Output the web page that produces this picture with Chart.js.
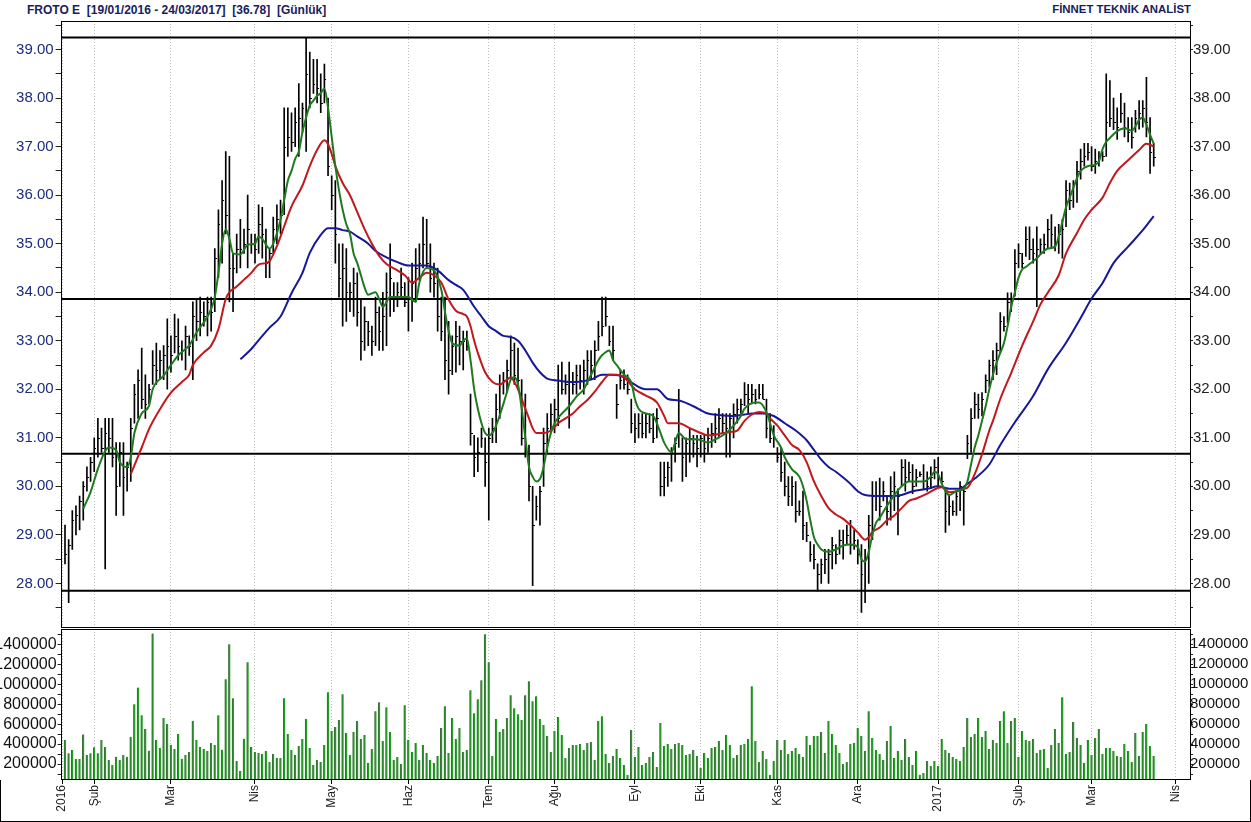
<!DOCTYPE html>
<html>
<head>
<meta charset="utf-8">
<script src="https://cdn.jsdelivr.net/npm/chart.js@4.4.0/dist/chart.umd.min.js"></script>
<style>
  html, body { margin: 0; padding: 0; background: #fff; }
  #wrap { position: relative; width: 1251px; height: 822px; overflow: hidden; background: #fff; }
  .hdr { position: absolute; top: 3px; font: bold 12px "Liberation Sans", Arial, sans-serif; color: #16215c; white-space: pre; }
  canvas { position: absolute; left: 0; }
  .ln { position: absolute; background: #000; }
</style>
</head>
<body>
<div id="wrap">
  <div class="hdr" style="left:27px">FROTO E  [19/01/2016 - 24/03/2017]  [36.78]  [Günlük]</div>
  <div class="hdr" style="right:60px;font-size:11.4px">FİNNET TEKNİK ANALİST</div>
  <canvas id="priceChart" width="1251" height="629" style="top:0"></canvas>
  <canvas id="volChart" width="1251" height="194" style="top:628px"></canvas>
  <div class="ln" style="left:0;top:780px;width:1px;height:42px"></div>
  <div class="ln" style="left:1250px;top:780px;width:1px;height:42px"></div>
  <div class="ln" style="left:0;top:821px;width:1251px;height:1px"></div>
</div>
<script>
// daily bars, day 0 = first session shown in January 2016
const highP = [
  29.2,28.9,29.5,29.6,29.8,30.1,30.4,30.6,31.0,31.4,
  31.2,31.4,31.4,31.4,30.9,30.9,30.9,30.5,31.4,32.1,
  32.4,32.85,32.3,32.1,32.8,32.95,32.8,32.9,33.45,33.1,
  33.55,33.45,33.0,33.3,33.1,33.8,33.85,33.9,33.8,33.9,
  33.9,34.9,35.7,36.3,36.9,36.8,34.8,35.2,35.5,35.3,
  36.0,35.2,35.2,35.8,35.75,35.3,34.9,35.55,35.8,35.9,
  37.8,37.8,37.7,37.8,38.3,37.9,39.25,38.95,38.8,38.8,
  38.5,38.7,38.0,36.4,36.3,35.0,35.0,34.9,34.2,34.5,
  34.4,33.85,33.7,33.4,33.3,33.9,33.7,34.0,34.4,35.0,
  34.2,34.2,34.5,34.2,34.3,34.6,34.9,35.0,35.55,35.5,
  35.0,34.6,34.5,33.9,33.9,33.4,33.1,33.4,33.3,33.2,
  33.2,31.9,31.05,31.0,31.2,31.0,31.2,31.4,31.9,32.3,
  32.35,32.6,33.1,32.95,32.85,32.2,31.9,30.85,30.0,29.8,
  30.0,31.2,31.5,31.7,31.8,32.5,32.56,32.3,32.56,32.35,
  32.5,32.5,32.6,32.8,32.8,33.0,33.4,33.9,33.9,33.3,
  33.3,32.1,32.4,32.4,32.3,31.8,31.5,31.5,31.5,31.5,
  31.5,31.5,31.6,30.5,30.5,30.5,30.8,31.0,32.0,31.0,
  31.0,31.2,31.05,31.05,31.05,31.05,31.2,31.3,31.5,31.6,
  31.5,31.5,31.5,31.7,31.8,31.8,32.14,32.1,32.1,32.0,
  32.1,32.1,31.8,31.5,31.25,30.8,30.8,30.5,30.2,30.2,
  30.1,29.7,29.9,29.26,28.86,28.8,28.4,28.5,28.7,28.7,
  28.95,28.8,29.1,29.1,29.2,29.3,29.1,28.9,28.8,28.7,
  29.4,30.1,30.1,30.17,30.1,29.8,30.2,30.3,29.95,30.55,
  30.55,30.5,30.45,30.35,30.3,30.45,30.3,30.4,30.55,30.6,
  30.3,29.9,29.8,29.7,29.88,30.1,30.0,31.05,31.6,31.93,
  31.9,31.93,32.3,32.6,32.8,32.95,33.58,33.5,33.99,33.99,
  34.88,35.0,34.8,35.35,35.35,35.1,35.35,35.1,35.2,35.5,
  35.6,35.35,35.4,35.5,36.3,36.25,36.3,36.7,36.95,37.07,
  37.07,37.0,36.95,36.9,36.9,38.5,38.36,38.0,37.8,38.1,
  37.9,37.6,37.6,37.75,37.95,37.95,38.43,37.6,37.07
];
const lowP = [
  28.4,27.6,28.7,29.0,29.1,29.3,29.9,30.1,30.3,30.6,
  30.7,28.3,30.7,30.4,29.4,30.0,29.4,29.9,30.1,31.3,
  31.4,31.6,31.4,31.7,32.1,32.1,32.2,32.2,32.0,32.35,
  32.75,32.6,32.6,32.4,32.7,32.2,33.0,33.1,33.3,33.1,
  33.2,33.6,34.3,34.6,35.2,33.8,33.6,34.4,34.5,34.8,
  34.5,34.8,34.6,34.8,34.7,34.3,34.3,34.8,35.0,35.2,
  35.6,36.8,36.9,37.0,36.8,37.3,36.9,37.8,38.1,37.9,
  37.7,37.9,36.4,35.7,34.6,33.9,33.3,33.4,33.6,33.5,
  33.3,32.6,32.8,32.9,32.7,32.9,32.8,32.8,32.9,33.5,
  33.6,33.7,33.9,33.7,33.2,33.4,33.8,34.25,34.5,34.5,
  34.0,33.9,33.2,33.0,32.2,31.9,32.3,32.35,32.5,32.4,
  32.8,30.85,30.2,30.3,30.8,30.0,29.3,30.9,30.9,31.4,
  31.9,31.95,32.2,32.1,32.0,30.85,30.6,29.7,27.95,29.3,
  29.2,30.0,30.7,31.1,31.1,31.25,31.9,31.9,31.2,31.9,
  31.9,32.0,31.9,32.1,32.2,32.2,32.8,33.1,33.3,32.9,
  32.6,31.4,32.0,32.0,31.9,31.1,30.9,31.0,31.0,31.0,
  31.1,30.9,31.0,29.8,29.8,30.0,30.1,30.5,30.8,30.1,
  30.2,30.5,30.6,30.4,30.6,30.5,30.7,30.8,30.9,31.0,
  31.1,30.6,30.6,31.0,31.3,31.5,31.66,31.5,31.7,31.7,
  31.8,31.8,31.0,30.9,30.8,30.5,30.1,29.8,29.6,29.6,
  29.26,29.4,28.9,28.86,28.45,28.3,27.84,28.0,28.2,28.0,
  28.3,28.4,28.6,28.5,28.8,28.6,28.7,28.4,27.4,27.6,
  28.0,28.9,29.5,29.3,29.7,29.2,29.3,29.5,29.0,30.0,
  29.9,30.1,29.85,30.0,30.2,29.95,29.9,29.95,30.15,30.0,
  30.05,29.05,29.2,29.4,29.4,29.5,29.2,30.57,30.7,31.4,
  31.4,31.45,31.93,32.05,32.2,32.3,32.75,33.2,33.37,33.6,
  33.92,34.5,34.5,34.74,34.67,34.6,33.7,34.8,34.8,34.9,
  34.9,34.85,34.8,34.7,35.35,35.7,35.75,35.85,36.33,36.6,
  36.72,36.5,36.45,36.6,36.7,36.8,37.41,37.35,37.15,37.5,
  37.2,37.1,36.97,37.3,37.36,37.4,37.2,36.45,36.6
];
const closeP = [
  28.6,28.8,29.3,29.4,29.7,30.0,30.2,30.5,30.8,31.0,
  30.8,31.1,31.0,30.6,30.0,30.7,30.2,30.4,31.2,31.9,
  32.2,31.8,31.7,32.0,32.5,32.4,32.6,32.7,32.9,32.7,
  33.1,32.9,32.8,33.1,32.9,33.5,33.4,33.6,33.5,33.8,
  33.6,34.7,35.4,35.9,35.6,34.5,34.5,34.9,34.9,35.0,
  35.3,35.0,34.9,35.4,35.2,34.6,34.8,35.3,35.5,35.6,
  37.0,37.2,37.1,37.5,37.6,37.8,38.5,38.0,38.3,38.2,
  37.9,38.4,36.6,36.0,35.2,34.3,34.5,34.0,34.0,34.2,
  33.6,33.0,33.4,33.2,33.0,33.6,33.2,33.5,34.0,34.3,
  33.9,34.0,34.1,33.8,33.9,34.2,34.5,34.6,35.0,34.6,
  34.3,34.2,33.5,33.2,32.6,32.4,32.9,33.1,33.0,33.0,
  32.9,31.1,30.6,30.7,31.0,30.5,31.0,31.2,31.6,32.1,
  32.2,32.4,32.8,32.3,32.2,31.0,30.8,30.0,29.2,29.6,
  29.9,30.9,31.2,31.5,31.6,31.4,32.0,32.1,31.5,32.1,
  32.3,32.2,32.4,32.6,32.5,32.8,33.1,33.3,33.5,33.0,
  32.8,31.7,32.2,32.1,32.0,31.3,31.2,31.3,31.1,31.3,
  31.2,31.0,31.4,30.0,30.2,30.4,30.7,30.9,31.3,30.6,
  30.9,31.0,30.9,30.8,31.0,30.8,31.0,31.1,31.2,31.4,
  31.3,31.2,31.4,31.5,31.6,31.7,31.9,31.8,31.9,31.8,
  31.9,31.8,31.2,31.0,31.0,30.6,30.3,30.0,29.8,30.0,
  29.5,29.5,29.2,29.0,28.6,28.5,28.2,28.4,28.5,28.6,
  28.8,28.6,28.9,28.8,29.0,28.8,28.9,28.6,28.2,28.5,
  29.2,29.8,29.8,29.6,29.9,29.5,29.9,30.0,29.8,30.4,
  30.2,30.3,30.0,30.2,30.25,30.1,30.0,30.2,30.4,30.2,
  30.1,29.5,29.6,29.5,29.8,30.0,29.9,30.9,31.4,31.7,
  31.6,31.8,32.2,32.5,32.6,32.8,33.4,33.3,33.8,33.8,
  34.6,34.8,34.6,35.1,34.9,34.8,34.9,35.0,35.0,35.3,
  35.2,35.0,35.2,35.3,36.1,35.9,36.2,36.5,36.7,36.8,
  36.9,36.6,36.7,36.8,36.8,37.5,37.6,37.5,37.4,37.7,
  37.4,37.3,37.2,37.6,37.7,37.8,37.5,36.9,36.78
];
const volume = [
  440000,307000,340000,250000,250000,497000,290000,307000,367000,307000,
  440000,370000,240000,190000,273000,240000,290000,273000,473000,800000,
  967000,690000,550000,333000,1507000,440000,360000,660000,600000,393000,
  350000,500000,253000,290000,320000,633000,440000,370000,350000,330000,
  410000,390000,690000,343000,1050000,1400000,860000,230000,130000,453000,
  1220000,370000,320000,310000,300000,330000,220000,300000,260000,260000,
  860000,500000,340000,290000,380000,450000,650000,360000,190000,240000,
  220000,390000,920000,530000,570000,640000,900000,510000,290000,520000,
  630000,450000,490000,210000,350000,730000,820000,430000,770000,520000,
  240000,270000,200000,790000,440000,320000,410000,240000,390000,310000,
  240000,210000,280000,560000,780000,310000,660000,450000,560000,320000,
  340000,940000,710000,850000,1040000,1500000,1220000,280000,650000,520000,
  550000,660000,890000,760000,700000,640000,890000,1030000,830000,880000,
  650000,590000,480000,320000,530000,670000,490000,260000,360000,390000,
  390000,400000,340000,410000,420000,240000,630000,680000,300000,210000,
  280000,350000,260000,190000,90000,540000,270000,370000,190000,210000,
  270000,320000,170000,610000,380000,400000,350000,400000,410000,390000,
  290000,300000,340000,280000,160000,310000,260000,360000,370000,430000,
  340000,490000,390000,260000,290000,390000,400000,450000,980000,430000,
  220000,330000,250000,90000,230000,440000,340000,440000,300000,330000,
  360000,300000,270000,480000,390000,480000,480000,520000,310000,630000,
  500000,390000,310000,200000,220000,400000,410000,560000,480000,330000,
  730000,460000,340000,300000,240000,430000,580000,260000,330000,240000,
  450000,270000,190000,330000,93000,110000,230000,180000,230000,180000,
  450000,340000,310000,270000,250000,230000,370000,660000,470000,500000,
  660000,470000,530000,350000,440000,410000,630000,730000,410000,630000,
  660000,270000,530000,440000,430000,450000,310000,340000,350000,160000,
  390000,550000,410000,870000,300000,320000,620000,460000,390000,210000,
  440000,290000,460000,550000,300000,360000,360000,330000,280000,270000,
  400000,330000,220000,510000,280000,520000,600000,380000,280000
];

// moving averages: [day, value]
const fastMa = [
  [5,29.54],[7,29.88],[9,30.36],[11,30.73],[12,30.8],[14,30.75],[15,30.5],[17,30.4],[18,30.6],[19,31.1],
  [21,31.5],[23,31.66],[24,32.0],[27,32.28],[29,32.5],[31,32.7],[33,32.83],[34,32.9],[36,33.17],[38,33.38],
  [40,33.65],[41,33.9],[42,34.4],[43,35.0],[44,35.3],[45,35.1],[46,34.8],[48,34.78],[50,34.98],[52,35.0],
  [53,35.15],[54,35.1],[56,34.9],[57,35.0],[59,35.5],[60,35.9],[61,36.3],[62,36.5],[63,36.75],[64,36.9],
  [65,37.3],[66,37.6],[67,37.85],[68,37.95],[69,38.05],[70,38.1],[71,38.2],[72,37.8],[73,37.2],[74,36.6],
  [75,36.1],[76,35.7],[77,35.4],[78,35.2],[79,34.8],[80,34.6],[81,34.35],[82,34.1],[83,33.95],[85,34.0],
  [86,33.86],[87,33.7],[89,33.9],[91,33.9],[94,33.9],[96,33.8],[97,34.2],[99,34.5],[101,34.45],[103,34.05],
  [104,33.6],[105,33.2],[106,32.95],[108,32.9],[109,33.0],[110,33.05],[111,32.6],[112,32.0],[113,31.6],[114,31.3],
  [115,31.1],[116,31.05],[117,31.1],[118,31.25],[120,31.7],[121,31.95],[122,32.2],[123,32.25],[124,32.1],[125,31.6],
  [126,31.0],[127,30.4],[128,30.2],[129,30.1],[130,30.15],[131,30.4],[132,30.8],[133,31.1],[134,31.3],[136,31.5],
  [138,31.65],[140,31.85],[142,32.0],[143,32.15],[145,32.45],[146,32.6],[147,32.7],[149,32.8],[150,32.6],[151,32.5],
  [153,32.3],[155,32.14],[156,31.8],[157,31.6],[159,31.5],[161,31.45],[162,31.3],[163,31.1],[164,30.9],[166,30.7],
  [167,30.9],[168,31.1],[170,30.97],[173,30.97],[176,30.9],[178,30.97],[181,31.1],[183,31.25],[185,31.45],[186,31.6],
  [189,31.73],[190,31.73],[192,31.53],[193,31.3],[194,31.05],[196,30.8],[197,30.6],[199,30.35],[201,30.2],[202,30.0],
  [203,29.7],[204,29.3],[205,28.95],[206,28.8],[207,28.7],[209,28.65],[211,28.7],[213,28.78],[215,28.8],[217,28.75],
  [218,28.5],[219,28.45],[220,28.65],[221,29.0],[222,29.25],[223,29.35],[225,29.6],[227,29.82],[229,30.0],[231,30.1],
  [233,30.1],[235,30.1],[237,30.2],[238,30.3],[239,30.25],[240,30.05],[241,29.9],[242,29.82],[244,29.9],[246,29.95],
  [247,30.1],[248,30.45],[249,30.8],[250,31.05],[251,31.35],[252,31.65],[253,32.0],[254,32.3],[255,32.55],[256,32.75],
  [257,32.95],[258,33.3],[259,33.7],[260,34.0],[261,34.3],[262,34.47],[263,34.52],[264,34.58],[266,34.7],[267,34.78],
  [269,34.9],[271,34.94],[272,35.15],[273,35.45],[274,35.75],[275,35.95],[276,36.15],[277,36.35],[278,36.5],[280,36.6],
  [282,36.63],[283,36.7],[284,36.95],[285,37.1],[286,37.18],[288,37.32],[290,37.38],[292,37.33],[293,37.42],[294,37.55],
  [295,37.6],[296,37.45],[297,37.25],[298,37.06]
];
const midMa = [
  [18,30.25],[21,30.8],[23,31.18],[26,31.59],[29,31.93],[32,32.15],[34,32.3],[35,32.5],[38,32.76],[40,32.9],
  [42,33.24],[44,33.86],[45,34.0],[47,34.12],[49,34.26],[51,34.4],[53,34.57],[55,34.6],[56,34.64],[58,34.95],
  [60,35.36],[62,35.77],[65,36.2],[67,36.6],[69,36.93],[71,37.13],[72,37.05],[73,36.85],[74,36.6],[76,36.25],
  [78,36.0],[80,35.65],[82,35.3],[84,35.0],[86,34.75],[88,34.58],[91,34.45],[93,34.35],[95,34.2],[97,34.3],
  [99,34.4],[101,34.35],[103,34.2],[105,33.85],[107,33.62],[109,33.55],[110,33.5],[111,33.3],[112,33.0],[113,32.75],
  [115,32.35],[117,32.15],[119,32.1],[121,32.2],[122,32.25],[123,32.15],[124,32.0],[126,31.6],[127,31.4],[128,31.2],
  [129,31.1],[131,31.1],[133,31.15],[135,31.3],[137,31.4],[139,31.5],[141,31.65],[143,31.78],[145,31.95],[147,32.15],
  [149,32.3],[151,32.3],[153,32.25],[156,32.0],[159,31.87],[162,31.73],[164,31.45],[165,31.3],[168,31.3],[171,31.2],
  [174,31.1],[176,31.05],[179,31.08],[182,31.12],[184,31.15],[186,31.35],[188,31.48],[190,31.53],[192,31.5],[193,31.4],
  [195,31.25],[197,31.05],[199,30.85],[201,30.75],[203,30.5],[205,30.1],[207,29.8],[209,29.55],[211,29.42],[213,29.33],
  [215,29.2],[217,29.05],[219,28.9],[220,28.95],[221,29.06],[223,29.15],[225,29.3],[227,29.4],[229,29.55],[231,29.7],
  [233,29.75],[236,29.85],[239,29.97],[240,29.98],[242,29.88],[244,29.9],[246,29.95],[247,29.97],[249,30.25],[251,30.66],
  [253,31.15],[254,31.35],[256,31.8],[259,32.34],[262,32.9],[265,33.4],[267,33.75],[269,33.99],[272,34.35],[274,34.8],
  [277,35.22],[279,35.5],[281,35.7],[284,35.95],[286,36.25],[288,36.5],[291,36.72],[294,36.93],[296,37.06],[297,37.04],
  [298,37.0]
];
const slowMa = [
  [48,32.62],[51,32.83],[54,33.1],[56,33.27],[59,33.5],[62,33.98],[65,34.4],[67,34.81],[70,35.18],[72,35.32],
  [74,35.32],[76,35.28],[78,35.25],[80,35.15],[83,35.0],[85,34.85],[88,34.72],[91,34.62],[94,34.55],[97,34.55],
  [99,34.55],[102,34.45],[105,34.25],[107,34.15],[109,34.05],[112,33.7],[114,33.5],[116,33.3],[118,33.2],[120,33.1],
  [122,33.08],[124,33.0],[126,32.8],[128,32.55],[130,32.35],[132,32.22],[135,32.18],[138,32.15],[140,32.15],[144,32.2],
  [147,32.3],[149,32.3],[152,32.28],[155,32.14],[159,32.0],[162,32.0],[165,31.8],[168,31.77],[172,31.65],[176,31.5],
  [179,31.47],[183,31.45],[186,31.48],[188,31.5],[191,31.5],[194,31.45],[197,31.3],[200,31.15],[203,30.95],[205,30.75],
  [207,30.55],[209,30.4],[211,30.3],[213,30.18],[215,30.05],[217,29.9],[219,29.82],[223,29.8],[226,29.8],[229,29.82],
  [232,29.9],[236,29.95],[239,30.0],[242,29.95],[245,29.95],[247,30.05],[249,30.16],[253,30.45],[256,30.85],[260,31.32],
  [265,31.86],[269,32.41],[274,32.96],[278,33.47],[281,33.87],[284,34.19],[287,34.6],[291,34.94],[295,35.28],[298,35.57]
];

const levels = [39.25, 33.86, 30.67, 27.85];
const priceTicks = [27.5,28,28.5,29,29.5,30,30.5,31,31.5,32,32.5,33,33.5,34,34.5,35,35.5,36,36.5,37,37.5,38,38.5,39,39.5];
const volTicks = [100000,200000,300000,400000,500000,600000,700000,800000,900000,1000000,1100000,1200000,1300000,1400000,1500000];
const monthTicks = [-0.8, 8, 29, 52, 73, 94, 116, 134, 156, 174, 195, 217, 239, 261, 281, 304];
const monthLabels = ['2016','Şub','Mar','Nis','May','Haz','Tem','Ağu','Eyl','Eki','Kas','Ara','2017','Şub','Mar','Nis'];

const X_MIN = -0.93, X_MAX = 307.93;
const FONT = '"Liberation Sans", Arial, sans-serif';

const frame = {
  id: 'frame',
  afterDraw(chart) {
    const { ctx, chartArea: a } = chart;
    ctx.save();
    ctx.strokeStyle = '#000';
    ctx.lineWidth = 1;
    const l = Math.floor(a.left) + 0.5, t = Math.floor(a.top) + 0.5;
    ctx.strokeRect(l, t, Math.round(a.right) - Math.floor(a.left), Math.round(a.bottom) - Math.floor(a.top) - 1);
    ctx.restore();
  }
};

const closeTicks = {
  id: 'closeTicks',
  beforeDatasetsDraw(chart) {
    const { ctx, scales } = chart;
    ctx.save();
    ctx.strokeStyle = '#000';
    ctx.lineWidth = 1;
    ctx.beginPath();
    closeP.forEach((c, i) => {
      const px = Math.round(scales.x.getPixelForValue(i));
      const py = Math.round(scales.y.getPixelForValue(c)) + 0.5;
      ctx.moveTo(px, py);
      ctx.lineTo(px + 2, py);
    });
    ctx.stroke();
    ctx.restore();
  }
};

function maSet(points, color) {
  return {
    type: 'line',
    data: points.map(p => ({ x: p[0], y: p[1] })),
    borderColor: color,
    borderWidth: 2,
    pointRadius: 0,
    cubicInterpolationMode: 'monotone',
    order: 1
  };
}

const monthGrid = {
  type: 'linear', min: X_MIN, max: X_MAX, offset: false,
  afterBuildTicks: s => { s.ticks = monthTicks.map(v => ({ value: v })); }
};

new Chart(document.getElementById('priceChart'), {
  type: 'bar',
  data: {
    datasets: [
      maSet(fastMa, '#1f7a1f'),
      maSet(midMa, '#c0181c'),
      maSet(slowMa, '#17179a'),
      ...levels.map(v => ({
        type: 'line', data: [{ x: X_MIN, y: v }, { x: X_MAX, y: v }],
        borderColor: '#000', borderWidth: 2, pointRadius: 0, order: 4
      })),
      {
        type: 'bar',
        data: highP.map((h, i) => ({ x: i, y: [lowP[i], h] })),
        backgroundColor: '#000',
        barThickness: 1,
        order: 5
      }
    ]
  },
  options: {
    responsive: false,
    animation: false,
    events: [],
    layout: { padding: { top: 21, bottom: 1, left: 0, right: 0 } },
    plugins: { legend: { display: false }, tooltip: { enabled: false } },
    scales: {
      x: {
        ...monthGrid,
        ticks: { display: false },
        grid: { color: '#bdbdbd', drawTicks: false, offset: false },
        border: { display: false, dash: [1, 2] },
        afterFit: s => { s.height = 0; s.paddingLeft = 0; s.paddingRight = 0; }
      },
      y: {
        position: 'left', min: 27.08, max: 39.59,
        afterBuildTicks: s => { s.ticks = priceTicks.map(v => ({ value: v })); },
        ticks: {
          autoSkip: false, padding: 2, color: '#1d2b80',
          font: { family: FONT, size: 15 },
          callback: v => Number.isInteger(v) ? v.toFixed(2) : ''
        },
        grid: { drawOnChartArea: false, drawTicks: true, tickLength: 6, tickColor: '#222' },
        border: { display: false },
        afterFit: s => { s.width = 61.6; s.paddingTop = 0; s.paddingBottom = 0; }
      },
      y2: {
        position: 'right', min: 27.08, max: 39.59,
        afterBuildTicks: s => { s.ticks = priceTicks.map(v => ({ value: v })); },
        ticks: {
          autoSkip: false, padding: 0, color: '#222',
          font: { family: FONT, size: 15 },
          callback: v => Number.isInteger(v) ? v.toFixed(2) : ''
        },
        grid: { drawOnChartArea: false, drawTicks: true, tickLength: 3, tickColor: '#222' },
        border: { display: false },
        afterFit: s => { s.width = 61; s.paddingTop = 0; s.paddingBottom = 0; }
      }
    }
  },
  plugins: [closeTicks, frame]
});

new Chart(document.getElementById('volChart'), {
  type: 'bar',
  data: {
    datasets: [{
      data: volume.map((v, i) => ({ x: i, y: v })),
      backgroundColor: '#1f9f1f',
      borderColor: '#3b6e3b',
      borderWidth: { left: 1, right: 0, top: 0, bottom: 0 },
      borderSkipped: false,
      barThickness: 2
    }]
  },
  options: {
    responsive: false,
    animation: false,
    events: [],
    layout: { padding: { top: 1, bottom: 0, left: 0, right: 0 } },
    plugins: { legend: { display: false }, tooltip: { enabled: false } },
    scales: {
      x: {
        ...monthGrid,
        ticks: {
          autoSkip: false, minRotation: 90, maxRotation: 90, padding: 1, color: '#222',
          font: { family: FONT, size: 12 },
          callback: (v, i) => monthLabels[i]
        },
        grid: { color: '#bdbdbd', drawTicks: true, tickLength: 4, tickColor: '#000', tickBorderDash: [], offset: false },
        border: { display: false, dash: [1, 2] },
        afterFit: s => { s.height = 42; s.paddingLeft = 0; s.paddingRight = 0; }
      },
      y: {
        position: 'left', min: 40000, max: 1553000,
        afterBuildTicks: s => { s.ticks = volTicks.map(v => ({ value: v })); },
        ticks: {
          autoSkip: false, padding: 1, color: '#111',
          font: { family: FONT, size: 16 },
          callback: v => (v % 200000 === 0) ? String(v) : ''
        },
        grid: { drawOnChartArea: false, drawTicks: true, tickLength: 4, tickColor: '#222' },
        border: { display: false },
        afterFit: s => { s.width = 61.6; s.paddingTop = 0; s.paddingBottom = 0; }
      },
      y2: {
        position: 'right', min: 40000, max: 1553000,
        afterBuildTicks: s => { s.ticks = volTicks.map(v => ({ value: v })); },
        ticks: {
          autoSkip: false, padding: -3, color: '#111',
          font: { family: FONT, size: 15 },
          callback: v => (v % 200000 === 0) ? String(v) : ''
        },
        grid: { drawOnChartArea: false, drawTicks: true, tickLength: 3, tickColor: '#222' },
        border: { display: false },
        afterFit: s => { s.width = 61; s.paddingTop = 0; s.paddingBottom = 0; }
      }
    }
  },
  plugins: [frame]
});
</script>
</body>
</html>
